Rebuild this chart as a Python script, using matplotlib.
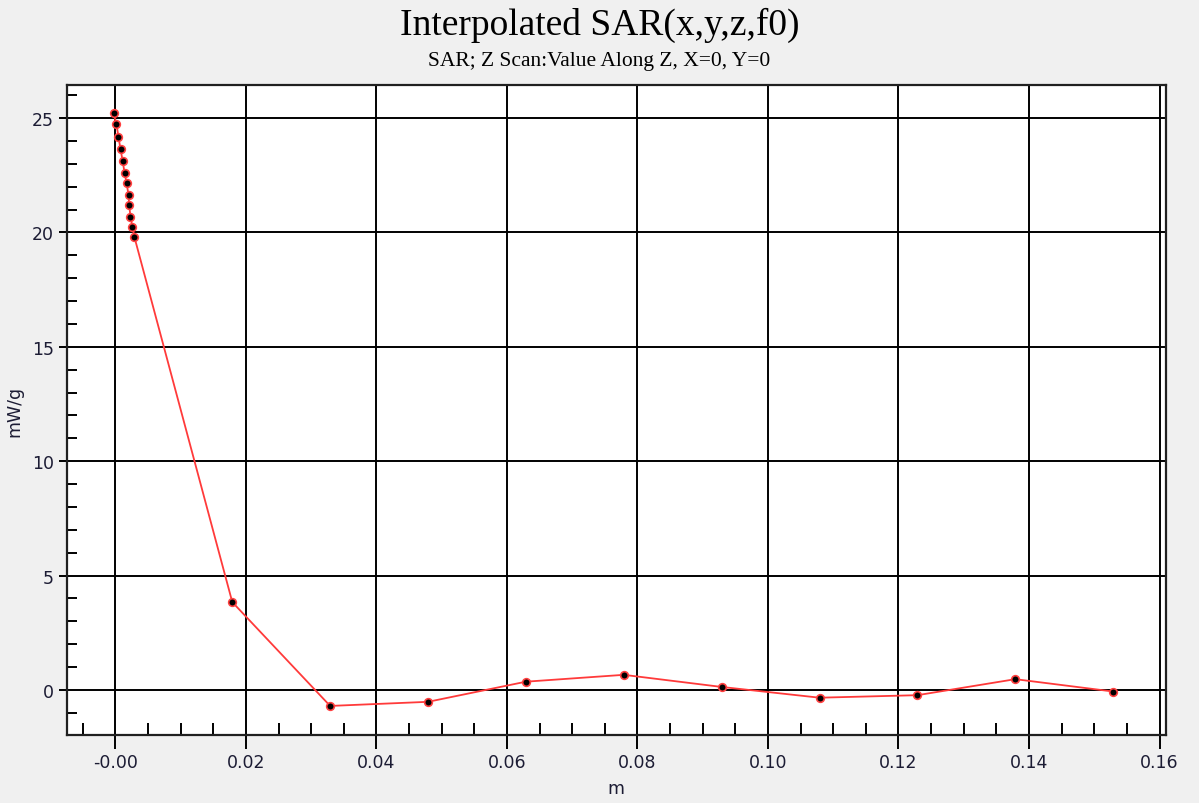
import numpy as np
import matplotlib
matplotlib.use("Agg")
import matplotlib.pyplot as plt
from matplotlib.ticker import MultipleLocator

# z position (m) and SAR value (mW/g)
z = [-0.0003, 0.00015, 0.00046, 0.00077, 0.0011, 0.0014, 0.0017, 0.0020,
     0.0021, 0.0023, 0.0026, 0.0029,
     0.0179, 0.0329, 0.0479, 0.0629, 0.0779, 0.0929, 0.1079, 0.1229,
     0.1379, 0.1529]
sar = [25.22, 24.74, 24.17, 23.65, 23.12, 22.60, 22.16, 21.64,
       21.20, 20.68, 20.24, 19.80,
       3.84, -0.70, -0.52, 0.36, 0.66, 0.13, -0.34, -0.23,
       0.47, -0.07]

xticks = [0.0, 0.02, 0.04, 0.06, 0.08, 0.10, 0.12, 0.14, 0.16]
xticklabels = ["-0.00", "0.02", "0.04", "0.06", "0.08", "0.10", "0.12", "0.14", "0.16"]
yticks = [0, 5, 10, 15, 20, 25]

bg = "#f0f0f0"
fig = plt.figure(figsize=(11.99, 8.04), dpi=100, facecolor=bg)
ax = fig.add_axes([0.0555, 0.0846, 0.917, 0.8085])
ax.set_facecolor("white")

ax.plot(z, sar, color="#ff3a3a", lw=1.3, marker="o", ms=5.5,
        mfc="black", mec="#ff4040", mew=1.2, zorder=3)

ax.set_xlim(-0.0075, 0.161)
ax.set_ylim(-1.97, 26.45)

ax.set_xticks(xticks)
ax.set_xticklabels(xticklabels)
ax.set_yticks(yticks)
ax.xaxis.set_minor_locator(MultipleLocator(0.005))
ax.yaxis.set_minor_locator(MultipleLocator(1))

ax.grid(True, which="major", color="black", lw=1.4)
ax.set_axisbelow(True)

lab_color = "#1c1c34"
ax.tick_params(axis="x", which="major", direction="out", length=10, width=1.4,
               labelsize=12.5, labelcolor=lab_color, pad=3)
ax.tick_params(axis="x", which="minor", direction="in", length=9, width=1.4)
ax.tick_params(axis="y", which="major", direction="out", length=6, width=1.4,
               labelsize=12.5, labelcolor=lab_color, pad=3)
ax.tick_params(axis="y", which="minor", direction="in", length=7, width=1.4)

for s in ax.spines.values():
    s.set_linewidth(1.6)
    s.set_color("#202020")

ax.set_xlabel("m", fontsize=12.5, color=lab_color, labelpad=6)
ax.set_ylabel("mW/g", fontsize=12.5, color=lab_color, labelpad=6)

fig.text(0.5, 0.968, "Interpolated SAR(x,y,z,f0)", ha="center", va="center",
         family="Liberation Serif", fontsize=27)
fig.text(0.5, 0.924, "SAR; Z Scan:Value Along Z, X=0, Y=0", ha="center", va="center",
         family="Liberation Serif", fontsize=15.5)

fig.savefig("out.png", dpi=100, facecolor=bg)
